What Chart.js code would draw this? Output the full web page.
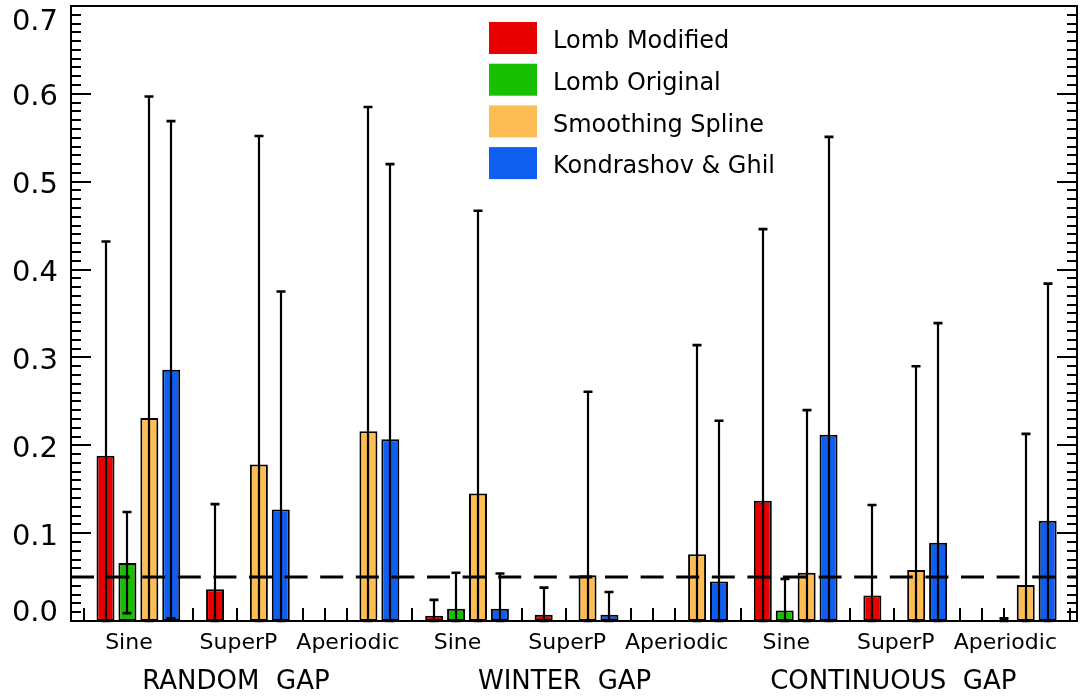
<!DOCTYPE html>
<html>
<head>
<meta charset="utf-8">
<script src="https://cdn.jsdelivr.net/npm/chart.js@4.4.1/dist/chart.umd.min.js"></script>
<style>
  html, body { margin: 0; padding: 0; background: #fff; }
  #wrap { width: 1084px; height: 697px; }
</style>
</head>
<body>
<div id="wrap"><canvas id="chart" width="1084" height="697"></canvas></div>
<script>
// ---- data -------------------------------------------------------------
const gapTypes = ['RANDOM  GAP', 'WINTER  GAP', 'CONTINUOUS  GAP'];
const signalTypes = ['Sine', 'SuperP', 'Aperiodic'];
const methodNames = ['Lomb Modified', 'Lomb Original', 'Smoothing Spline', 'Kondrashov & Ghil'];
const methodColors = ['#e80000', '#17c000', '#fdbd52', '#0e5ff0'];

// one entry per gap/signal pair, in the order
// random: sine, superP, aperiodic | winter: ... | continuous: ...
const lombModified     = [0.188, 0.036, null, 0.006, 0.007, null, 0.137, 0.029, null];
const lombModifiedHigh = [0.432, 0.133, null, 0.024, 0.038, null, 0.446, 0.132, null];
const lombModifiedLow  = [0, 0, null, 0, 0, null, 0, 0, null];

const lombOriginal     = [0.066, null, null, 0.014, null, null, 0.012, null, 0];
const lombOriginalHigh = [0.124, null, null, 0.055, null, null, 0.048, null, 0.003];
const lombOriginalLow  = [0.009, null, null, 0, null, null, 0, null, 0];

const smoothingSpline     = [0.231, 0.178, 0.216, 0.145, 0.052, 0.076, 0.055, 0.058, 0.041];
const smoothingSplineHigh = [0.597, 0.552, 0.585, 0.467, 0.261, 0.314, 0.240, 0.290, 0.213];
const smoothingSplineLow  = [0, 0, 0, 0, 0, 0, 0, 0, 0];

const kondrashovGhil     = [0.286, 0.127, 0.207, 0.014, 0.007, 0.045, 0.212, 0.089, 0.114];
const kondrashovGhilHigh = [0.569, 0.375, 0.520, 0.054, 0.033, 0.228, 0.551, 0.339, 0.384];
const kondrashovGhilLow  = [0.003, 0, 0, 0, 0, 0, 0, 0, 0];

const yTickLabels = ['0.0', '0.1', '0.2', '0.3', '0.4', '0.5', '0.6', '0.7'];
const significanceLevel = 0.05;

// ---- layout of the slot axis ------------------------------------------
// every gap/signal group uses one empty slot followed by one slot per method
const SLOTS_PER_GROUP = methodNames.length + 1;
const GROUP_COUNT = gapTypes.length * signalTypes.length;
const LAST_SLOT = GROUP_COUNT * SLOTS_PER_GROUP;
const X_MIN = -0.575;
const X_MAX = LAST_SLOT + 0.34;
const FONT = "'DejaVu Sans', sans-serif";

const means = [lombModified, lombOriginal, smoothingSpline, kondrashovGhil];
const highs = [lombModifiedHigh, lombOriginalHigh, smoothingSplineHigh, kondrashovGhilHigh];
const lows  = [lombModifiedLow, lombOriginalLow, smoothingSplineLow, kondrashovGhilLow];
const categoryLabels = gapTypes.flatMap(() => signalTypes);

const barSets = methodNames.map((name, m) => ({
  type: 'bar',
  label: name,
  backgroundColor: methodColors[m],
  borderColor: '#000',
  borderWidth: 2,
  borderSkipped: false,
  inflateAmount: 0,
  grouped: false,
  barThickness: 18,
  order: 2,
  data: means[m]
    .map((v, g) => v === null ? null : { x: g * SLOTS_PER_GROUP + 1 + m, y: v, lo: lows[m][g], hi: highs[m][g] })
    .filter(Boolean)
}));

const thresholdLine = {
  type: 'line',
  label: 'threshold',
  data: [{ x: X_MIN, y: significanceLevel }, { x: X_MAX, y: significanceLevel }],
  borderColor: '#000',
  borderWidth: 3,
  borderDash: [23, 12.6],
  pointRadius: 0,
  fill: false,
  order: 0
};

// ---- plugins ----------------------------------------------------------
// short tick marks at every slot along the bottom edge, hidden behind bars
const slotTicks = {
  id: 'slotTicks',
  beforeDatasetsDraw(chart) {
    const { ctx, chartArea: a, scales: { x } } = chart;
    ctx.save();
    ctx.strokeStyle = '#000';
    ctx.lineWidth = 2;
    ctx.beginPath();
    for (let s = 0; s <= LAST_SLOT; s++) {
      const px = Math.round(x.getPixelForValue(s));
      ctx.moveTo(px, a.bottom);
      ctx.lineTo(px, a.bottom - 13);
    }
    ctx.stroke();
    ctx.restore();
  }
};

// error bars from lower to upper bound, capped at both ends
const errorBars = {
  id: 'errorBars',
  afterDatasetsDraw(chart) {
    const { ctx, scales: { y } } = chart;
    ctx.save();
    ctx.strokeStyle = '#000';
    chart.data.datasets.forEach((ds, i) => {
      if (ds.type !== 'bar') return;
      const meta = chart.getDatasetMeta(i);
      meta.data.forEach((el, j) => {
        const d = ds.data[j];
        const px = Math.round(el.x);
        const yh = y.getPixelForValue(d.hi);
        const yl = y.getPixelForValue(d.lo);
        ctx.lineWidth = 2.2;
        ctx.beginPath();
        ctx.moveTo(px, yl);
        ctx.lineTo(px, yh);
        ctx.stroke();
        ctx.lineWidth = 2.6;
        ctx.beginPath();
        ctx.moveTo(px - 4.5, yh);
        ctx.lineTo(px + 4.5, yh);
        ctx.moveTo(px - 4.5, yl);
        ctx.lineTo(px + 4.5, yl);
        ctx.stroke();
      });
    });
    ctx.restore();
  }
};

// boxed frame with inward major/minor ticks on both vertical sides
const frame = {
  id: 'frame',
  afterDatasetsDraw(chart) {
    const { ctx, chartArea: a, scales: { y } } = chart;
    ctx.save();
    ctx.strokeStyle = '#000';
    ctx.lineWidth = 2;
    ctx.strokeRect(a.left, a.top, a.right - a.left, a.bottom - a.top);
    const steps = Math.round((y.max - y.min) / 0.01);
    ctx.beginPath();
    for (let k = 0; k <= steps; k++) {
      const py = Math.round(y.getPixelForValue(y.min + k * 0.01));
      const len = k % 10 === 0 ? 20 : 10;
      ctx.moveTo(a.left, py);
      ctx.lineTo(a.left + len, py);
      ctx.moveTo(a.right, py);
      ctx.lineTo(a.right - len, py);
    }
    ctx.stroke();
    ctx.restore();
  }
};

// legend inside the plot: colour swatch + method name
const boxLegend = {
  id: 'boxLegend',
  afterDraw(chart) {
    const { ctx, chartArea: a } = chart;
    ctx.save();
    ctx.font = '24px ' + FONT;
    ctx.textBaseline = 'middle';
    ctx.textAlign = 'left';
    chart.data.datasets.forEach((ds, i) => {
      if (ds.type !== 'bar') return;
      const bx = a.left + 418;
      const by = a.top + 16 + i * 41.7;
      ctx.fillStyle = ds.backgroundColor;
      ctx.fillRect(bx, by, 48, 32);
      ctx.fillStyle = '#000';
      ctx.fillText(ds.label, bx + 64, by + 20);
    });
    ctx.restore();
  }
};

const noEdgePadding = s => {
  s.paddingTop = 0; s.paddingBottom = 0; s.paddingLeft = 0; s.paddingRight = 0;
};

// ---- chart ------------------------------------------------------------
new Chart(document.getElementById('chart'), {
  type: 'bar',
  data: { datasets: [...barSets, thresholdLine] },
  plugins: [slotTicks, errorBars, frame, boxLegend],
  options: {
    responsive: false,
    animation: false,
    events: [],
    layout: { padding: { top: 6, right: 7, bottom: 0, left: 0 }, autoPadding: false },
    plugins: { legend: { display: false }, tooltip: { enabled: false } },
    scales: {
      x: {
        type: 'linear',
        min: X_MIN,
        max: X_MAX,
        bounds: 'data',
        offset: false,
        position: 'bottom',
        weight: 0,
        afterBuildTicks: s => { s.ticks = categoryLabels.map((_, k) => ({ value: k * SLOTS_PER_GROUP + 2 })); },
        afterFit: s => { s.height = 40; noEdgePadding(s); },
        grid: { display: false, drawTicks: false },
        border: { display: false },
        ticks: {
          autoSkip: false, maxRotation: 0, minRotation: 0,
          padding: 9, labelOffset: 1.5, color: '#000',
          font: { family: FONT, size: 22 },
          callback: (v, i) => categoryLabels[i]
        }
      },
      gap: {
        type: 'linear',
        min: X_MIN,
        max: X_MAX,
        bounds: 'data',
        offset: false,
        position: 'bottom',
        weight: 1,
        afterBuildTicks: s => {
          s.ticks = gapTypes.map((_, g) => ({ value: (g * signalTypes.length + 1) * SLOTS_PER_GROUP + 2 }));
        },
        afterFit: s => { s.height = 36; noEdgePadding(s); },
        grid: { display: false, drawTicks: false },
        border: { display: false },
        ticks: {
          autoSkip: false, maxRotation: 0, minRotation: 0,
          padding: 6, labelOffset: -1, color: '#000',
          font: { family: FONT, size: 26 },
          callback: (v, i) => gapTypes[i]
        }
      },
      y: {
        type: 'linear',
        min: 0,
        max: 0.7,
        position: 'left',
        afterBuildTicks: s => { s.ticks = yTickLabels.map(t => ({ value: Number(t) })); },
        afterFit: s => { s.width = 71; noEdgePadding(s); },
        grid: { display: false, drawTicks: false },
        border: { display: false },
        ticks: {
          padding: 13, labelOffset: 4, color: '#000',
          font: { family: FONT, size: 29, lineHeight: '24px' },
          callback: (v, i) => i === 0 ? [yTickLabels[i], '']
            : i === yTickLabels.length - 1 ? ['', yTickLabels[i]]
            : yTickLabels[i]
        }
      }
    }
  }
});
</script>
</body>
</html>
